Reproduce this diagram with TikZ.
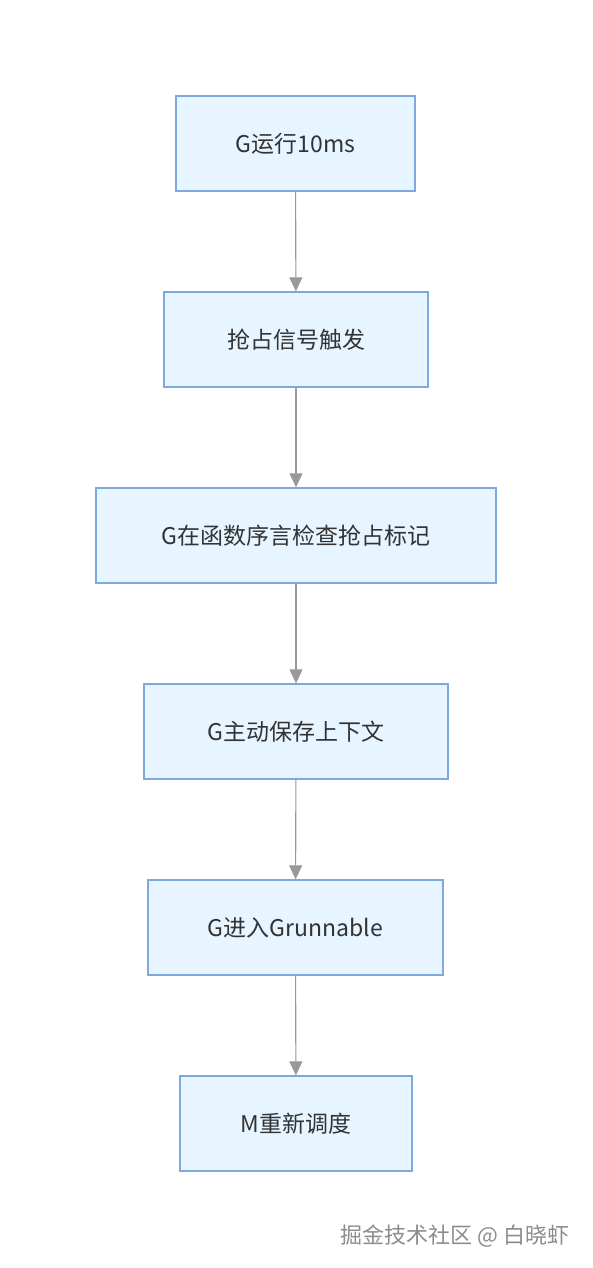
\documentclass[tikz,border=0pt]{standalone}
\usepackage{fontspec}
\newfontfamily\cjk{Noto Sans CJK SC}
\usetikzlibrary{arrows.meta}
\definecolor{boxfill}{HTML}{E6F5FF}
\definecolor{boxdraw}{HTML}{7EA8E0}
\definecolor{txt}{HTML}{333333}
\definecolor{arr}{HTML}{999999}
\tikzset{
  stepbox/.style={draw=boxdraw, fill=boxfill, line width=1.3pt, text=txt,
    font=\cjk\fontsize{23}{27}\selectfont, minimum height=95pt, inner sep=0pt},
  flow/.style={draw=arr, line width=1.1pt, -{Triangle[width=13pt,length=14pt]}}
}
\begin{document}
\begin{tikzpicture}[x=1pt,y=-1pt]
\useasboundingbox[fill=white] (0,0) rectangle (592,1268);
\node[stepbox, minimum width=239pt] (a) at (295.5,143.5) {G运行10ms};
\node[stepbox, minimum width=264pt] (b) at (296,339.5) {抢占信号触发};
\node[stepbox, minimum width=400pt] (c) at (296,535.5) {G在函数序言检查抢占标记};
\node[stepbox, minimum width=304pt] (d) at (296,731.5) {G主动保存上下文};
\node[stepbox, minimum width=295pt] (e) at (295.5,927.5) {G进入Grunnable};
\node[stepbox, minimum width=232pt] (f) at (296,1123.5) {M重新调度};
\draw[flow] (a) -- (b);
\draw[flow] (b) -- (c);
\draw[flow] (c) -- (d);
\draw[flow] (d) -- (e);
\draw[flow] (e) -- (f);
\node[font=\cjk\fontsize{22}{26}\selectfont, text=black!45, anchor=east] (wm) at (573,1236) {掘金技术社区 @ 白晓虾};
\end{tikzpicture}
\end{document}
